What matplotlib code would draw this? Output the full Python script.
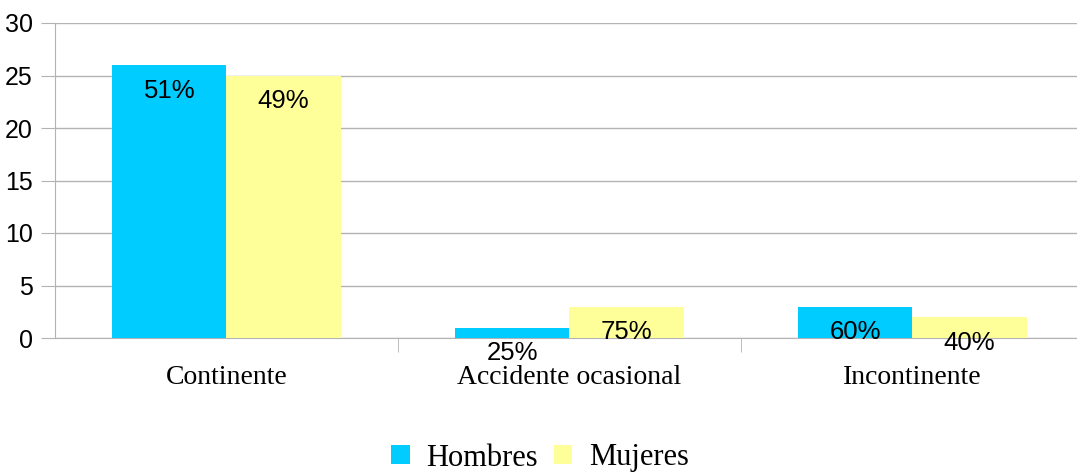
import matplotlib
matplotlib.use('Agg')
import matplotlib.pyplot as plt
import numpy as np

categories = ['Continente', 'Accidente ocasional', 'Incontinente']
hombres = [26, 1, 3]
mujeres = [25, 3, 2]
hombres_pct = ['51%', '25%', '60%']
mujeres_pct = ['49%', '75%', '40%']
yticks = [0, 5, 10, 15, 20, 25, 30]

W, H = 1077, 474
fig = plt.figure(figsize=(W / 100, H / 100), dpi=100)
ax = fig.add_axes([55 / W, 1 - 338 / H, (1077 - 55) / W, (338 - 23) / H])

x = np.arange(len(categories))
bw = 0.333
b1 = ax.bar(x - bw / 2, hombres, bw, color='#00CCFF', label='Hombres', zorder=3)
b2 = ax.bar(x + bw / 2, mujeres, bw, color='#FFFF99', label='Mujeres', zorder=3)

for bars, labels in ((b1, hombres_pct), (b2, mujeres_pct)):
    for rect, s in zip(bars, labels):
        ax.annotate(s, (rect.get_x() + rect.get_width() / 2, rect.get_height()),
                    xytext=(0, -18.5), textcoords='offset points',
                    ha='center', va='center', fontsize=18.5,
                    family='Liberation Sans', zorder=5)

ax.set_ylim(0, 30)
ax.set_xlim(-0.5, 2.5 - 7 / 343)
ax.set_yticks(yticks)
ax.tick_params(axis='y', length=10, color='#b3b3b3', labelsize=18, pad=6)
for lab in ax.get_yticklabels():
    lab.set_family('Liberation Sans')

ax.set_xticks(x)
ax.set_xticklabels(categories, family='Liberation Serif', fontsize=20)
ax.tick_params(axis='x', length=0, pad=19.5)
ax.set_xticks([0.5, 1.5], minor=True)
ax.tick_params(axis='x', which='minor', length=10, color='#b3b3b3')

ax.grid(axis='y', color='#b3b3b3', linewidth=1, zorder=0)
for side in ('top', 'right'):
    ax.spines[side].set_visible(False)
ax.spines['left'].set_color('#b3b3b3')
ax.spines['bottom'].set_color('#b3b3b3')

leg = fig.legend(handles=[b1, b2], loc='center', bbox_to_anchor=(540 / W, 1 - 458 / H),
                 ncol=2, frameon=False, prop={'family': 'Liberation Serif', 'size': 22},
                 handlelength=0.6, handleheight=0.6, handletextpad=0.55, columnspacing=0.5,
                 borderpad=0)

fig.savefig('out.png', dpi=100)
